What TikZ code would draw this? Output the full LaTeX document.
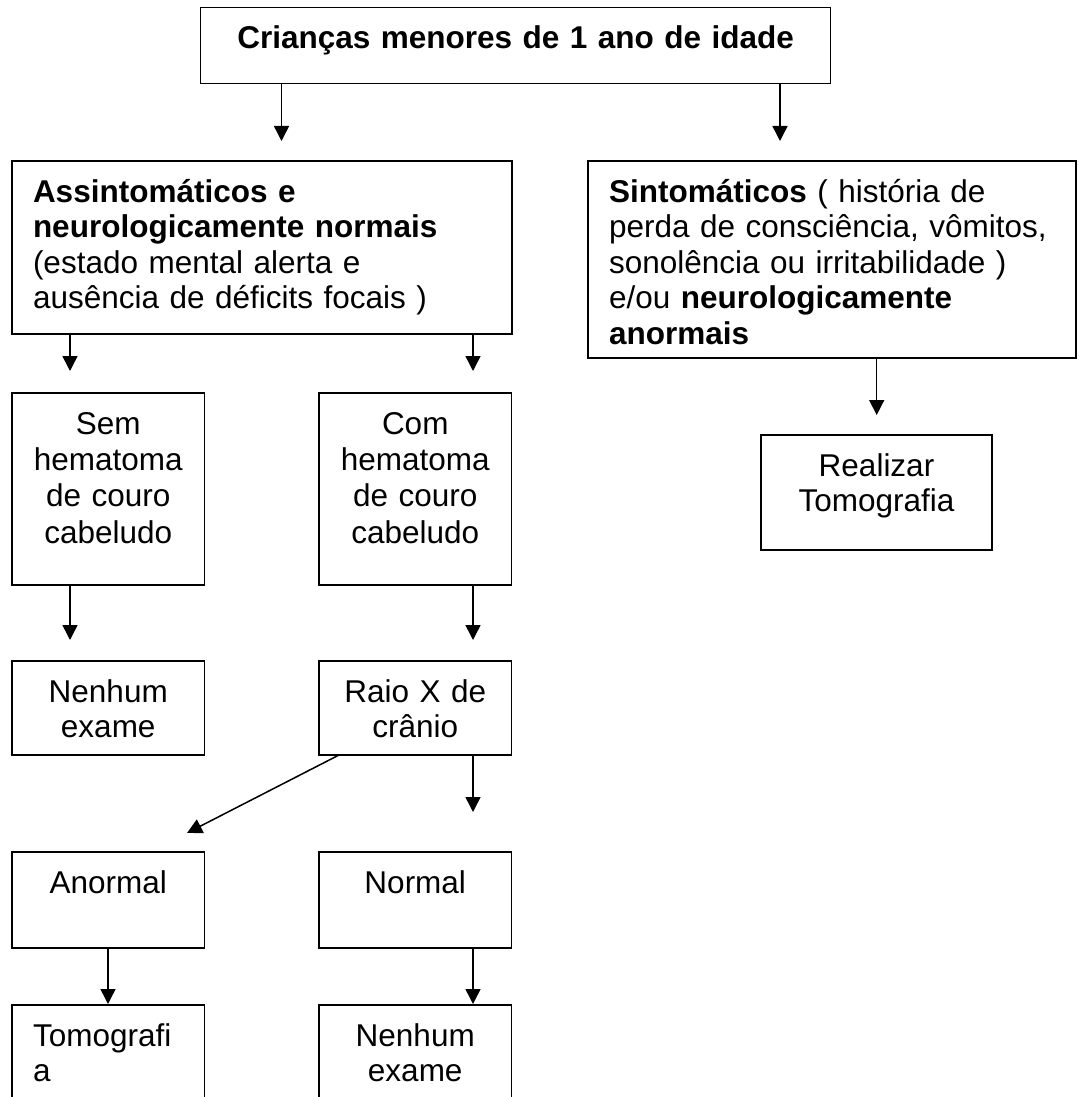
\documentclass[tikz,border=0pt]{standalone}
\usepackage{fontspec}
\setmainfont{Liberation Sans}
\usetikzlibrary{arrows.meta}
\newcommand{\boxfont}{\fontsize{15.75}{17.8}\selectfont}
\begin{document}
\begin{tikzpicture}[x=0.5pt,y=-0.5pt,
		box/.style={draw,line width=0.75pt,anchor=north west,inner xsep=10.5pt,inner ysep=0pt,outer sep=0pt,text height=20.5pt,align=center,font=\boxfont},
		leftbox/.style={box,align=left},
		tallbox/.style={box,font=\fontsize{15.75}{18.2}\selectfont},
		arr/.style={line width=0.75pt,-{Triangle[width=7.5pt,length=7.5pt]}}]
		\clip (0,0) rectangle (1078,1097);
		\fill[color=white] (0,0) rectangle (1078,1097);
		\node[box,text width=294pt,text depth=17.5pt,font=\boxfont\bfseries] (top) at (200.7,7.3) {Crianças menores de 1 ano de idade};
		\node[leftbox,text width=229pt,text depth=66pt] (assint) at (12,161) {\textbf{Assintomáticos e}\\\textbf{neurologicamente normais}\\(estado mental alerta e\\ausência de déficits focais )};
		\node[leftbox,text width=223pt,text depth=78pt] (sint) at (588,161) {\textbf{Sintomáticos} ( história de\\perda de consciência, vômitos,\\sonolência ou irritabilidade )\\e/ou \textbf{neurologicamente}\\\textbf{anormais}};
		\node[tallbox,text width=75.25pt,text depth=75.5pt] (sem) at (12,393) {Sem\\hematoma\\de couro\\cabeludo};
		\node[tallbox,text width=75.25pt,text depth=75.5pt] (com) at (319,393) {Com\\hematoma\\de couro\\cabeludo};
		\node[box,text width=94.5pt,text depth=37pt] (realizar) at (761,435) {Realizar\\Tomografia};
		\node[box,text width=75.25pt,text depth=26.5pt] (nenhum1) at (12,661) {Nenhum\\exame};
		\node[box,text width=75.25pt,text depth=26.5pt] (raio) at (319,661) {Raio X de\\crânio};
		\node[box,text width=75.25pt,text depth=27.5pt] (anormal) at (12,852) {Anormal};
		\node[box,text width=75.25pt,text depth=27.5pt] (normal) at (319,852) {Normal};
		\node[leftbox,text width=75.25pt,text depth=60pt] (tomo) at (12,1005) {Tomografi\\a};
		\node[box,text width=75.25pt,text depth=60pt] (nenhum2) at (319,1005) {Nenhum\\exame};
		\coordinate (diag) at (187,833);
		\draw[arr,shorten >=10pt] (top.south -| 281.5,0) -- (assint.north -| 281.5,0);
		\draw[arr,shorten >=10pt] (top.south -| 780,0) -- (sint.north -| 780,0);
		\draw[arr,shorten >=11pt] (assint.south -| 70,0) -- (sem.north -| 70,0);
		\draw[arr,shorten >=11pt] (assint.south -| 473,0) -- (com.north -| 473,0);
		\draw[arr,shorten >=10pt] (sint.south -| 876.7,0) -- (realizar.north -| 876.7,0);
		\draw[arr,shorten >=10.5pt] (sem.south -| 70,0) -- (nenhum1.north -| 70,0);
		\draw[arr,shorten >=10.5pt] (com.south -| 473,0) -- (raio.north -| 473,0);
		\draw[arr] (raio.south -| 339,0) -- (diag);
		\draw[arr,shorten >=20pt] (raio.south -| 473,0) -- (normal.north -| 473,0);
		\draw[arr,shorten >=0.5pt] (anormal.south -| 108,0) -- (tomo.north -| 108,0);
		\draw[arr,shorten >=0.5pt] (normal.south -| 473,0) -- (nenhum2.north -| 473,0);
	\end{tikzpicture}
\end{document}
